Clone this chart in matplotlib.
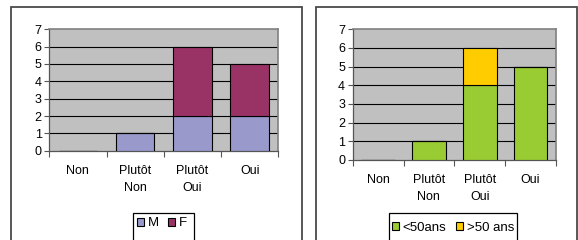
import matplotlib.pyplot as plt
from matplotlib.patches import Rectangle, Patch
import numpy as np

plt.rcParams['font.family'] = ['Liberation Sans', 'DejaVu Sans']

## the data
categories = ['Non', 'Plutôt\nNon', 'Plutôt\nOui', 'Oui']
sexe_m = [0, 1, 2, 2]
sexe_f = [0, 0, 4, 3]
age_moins50 = [0, 1, 4, 5]
age_plus50 = [0, 0, 2, 0]

W, H = 578, 240
fig = plt.figure(figsize=(W / 100, H / 100), dpi=100)


def fbox(x0, y0, x1, y1):
    # pixel box (top-left origin) -> figure fraction [left, bottom, width, height]
    return [x0 / W, 1 - y1 / H, (x1 - x0) / W, (y1 - y0) / H]


# outer chart frames
for x0, x1 in [(10.7, 301.7), (315.7, 577.0)]:
    l, b, w, h = fbox(x0, 6.7, x1, 260)
    fig.patches.append(Rectangle((l, b), w, h, transform=fig.transFigure,
                                 facecolor='none', edgecolor='#4a4a4a', lw=1.3, zorder=-1))


def panel(rect, s1, s2, c1, c2, labels, legbox, legcenter, width):
    ax = fig.add_axes(fbox(*rect))
    x = np.arange(len(categories))
    ax.set_facecolor('#c0c0c0')
    ax.bar(x, s1, width, color=c1, edgecolor='black', lw=0.8, zorder=3)
    ax.bar(x, s2, width, bottom=s1, color=c2, edgecolor='black', lw=0.8, zorder=3)
    ax.set_xlim(-0.5, 3.5)
    ax.set_ylim(0, 7)
    ax.set_yticks(range(8))
    for y in range(1, 7):
        ax.axhline(y, color='black', lw=0.8, zorder=1)
    ax.set_xticks(x, categories, fontsize=9, linespacing=1.6)
    ax.set_xticks(np.arange(-0.5, 4, 1), minor=True)
    ax.tick_params(axis='x', which='major', length=0, pad=10)
    ax.tick_params(axis='x', which='minor', length=4, width=0.8, color='#555555')
    ax.tick_params(axis='y', length=3.5, width=0.8, labelsize=9, pad=2, color='#555555')
    for s in ['top', 'right']:
        ax.spines[s].set_color('#808080')
        ax.spines[s].set_linewidth(1.2)
    for s in ['left', 'bottom']:
        ax.spines[s].set_color('#555555')
        ax.spines[s].set_linewidth(0.9)

    # legend frame (cut at the bottom like the reference)
    l, b, w, h = fbox(*legbox)
    fig.patches.append(Rectangle((l, b), w, h, transform=fig.transFigure,
                                 facecolor='white', edgecolor='black', lw=0.9))
    handles = [Patch(facecolor=c1, edgecolor='black', lw=0.8),
               Patch(facecolor=c2, edgecolor='black', lw=0.8)]
    fig.legend(handles, labels, loc='center',
               bbox_to_anchor=(legcenter[0] / W, 1 - legcenter[1] / H),
               ncol=2, frameon=False, fontsize=9.5, handlelength=0.55, handleheight=0.55,
               handletextpad=0.3, columnspacing=0.7, borderpad=0, borderaxespad=0)
    return ax


panel((49.3, 29.3, 278.3, 150.7), sexe_m, sexe_f, '#9999cc', '#993366',
      ['M', 'F'], (133.3, 212.7, 193.7, 250), (162, 223.3), 0.67)
panel((352.7, 29.3, 556.0, 160.0), age_moins50, age_plus50, '#99cc33', '#ffcc00',
      ['<50ans', '>50 ans'], (389, 212.7, 517, 250), (453, 227.7), 0.66)

fig.savefig('out.png', dpi=100)
